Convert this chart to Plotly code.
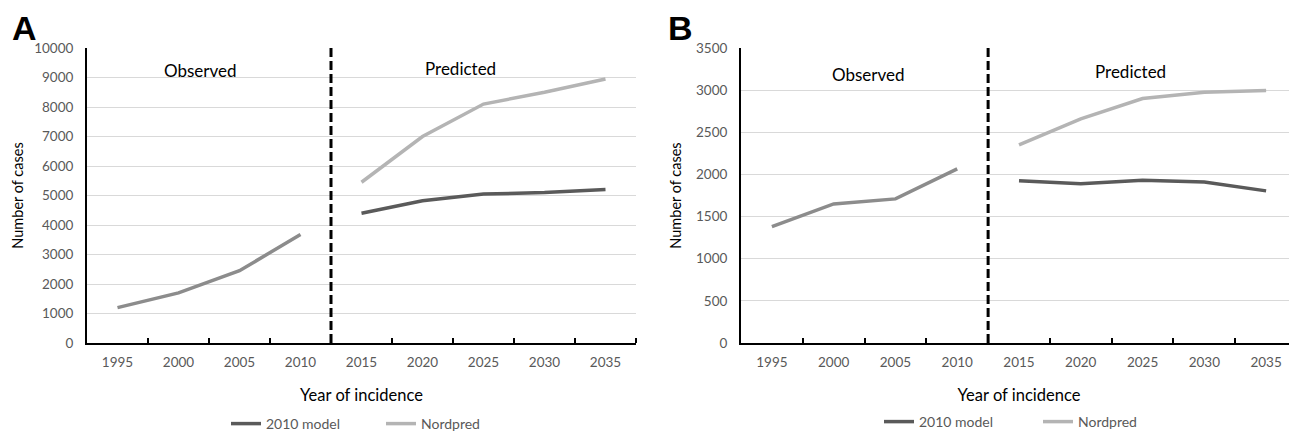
import plotly.graph_objects as go

years = [1995, 2000, 2005, 2010, 2015, 2020, 2025, 2030, 2035]
obs_years = [1995, 2000, 2005, 2010]
pred_years = [2015, 2020, 2025, 2030, 2035]

a_observed = [1200, 1700, 2450, 3680]
a_model2010 = [4400, 4820, 5050, 5100, 5200]
a_nordpred = [5450, 7000, 8100, 8500, 8950]

b_observed = [1380, 1650, 1710, 2065]
b_model2010 = [1925, 1890, 1930, 1910, 1805]
b_nordpred = [2350, 2660, 2900, 2975, 2995]

tick_labels = [str(y) for y in years]

C_OBS = "#8c8c8c"
C_MODEL = "#5a5a5a"
C_NORD = "#b4b4b4"
FONT = "Lato"
OFF = 8  # page body margin
W, H = 1297 - OFF, 433 - OFF

def px(x):
    return (x - OFF) / W

def py(y):
    return 1 - (y - OFF) / H

fig = go.Figure()

def add_panel(xa, ya, legend, obs, model, nord):
    fig.add_trace(go.Scatter(x=obs_years, y=obs, mode="lines", line=dict(color=C_OBS, width=3.5),
                             xaxis=xa, yaxis=ya, showlegend=False))
    fig.add_trace(go.Scatter(x=pred_years, y=model, mode="lines", name="2010 model",
                             line=dict(color=C_MODEL, width=3.5), xaxis=xa, yaxis=ya, legend=legend))
    fig.add_trace(go.Scatter(x=pred_years, y=nord, mode="lines", name="Nordpred",
                             line=dict(color=C_NORD, width=3.5), xaxis=xa, yaxis=ya, legend=legend))

add_panel("x", "y", "legend", a_observed, a_model2010, a_nordpred)
add_panel("x2", "y2", "legend2", b_observed, b_model2010, b_nordpred)

ydom = [py(343), py(48)]

def xaxis(dom, anchor):
    return dict(domain=dom, anchor=anchor, range=[1992.5, 2037.5], automargin=False,
                tickvals=years, ticktext=tick_labels, ticks="", showgrid=False, zeroline=False,
                showline=True, linecolor="black", linewidth=2, ticklabelstandoff=6,
                tickfont=dict(family=FONT, size=13.5, color="#595959"),
                minor=dict(tickvals=[1997.5 + 5 * i for i in range(9)], ticks="inside", ticklen=5,
                           tickcolor="black", tickwidth=1.5, showgrid=False),
                title=dict(text="Year of incidence", font=dict(family=FONT, size=16.5, color="black"), standoff=20))

def yaxis(anchor, rng, dtick, standoff):
    return dict(domain=ydom, anchor=anchor, range=rng, dtick=dtick, showgrid=True, gridcolor="#d9d9d9",
                gridwidth=1, zeroline=False, showline=True, linecolor="black", linewidth=2, ticks="",
                tickformat="d", automargin=False, ticklabelstandoff=9,
                tickfont=dict(family=FONT, size=13.5, color="#595959"),
                title=dict(text="Number of cases", font=dict(family=FONT, size=14.5, color="black"), standoff=standoff))

legend_common = dict(orientation="h", xanchor="left", yanchor="middle", entrywidthmode="pixels",
                     font=dict(family=FONT, size=14, color="#595959"), itemwidth=30, tracegroupgap=0)

fig.update_layout(
    width=W, height=H, margin=dict(l=0, r=0, t=0, b=0, autoexpand=False),
    plot_bgcolor="white", paper_bgcolor="white",
    xaxis=xaxis([px(87), px(636)], "y"),
    yaxis=yaxis("x", [0, 10000], 1000, 7),
    xaxis2=xaxis([px(741), 1.0], "y2"),
    yaxis2=yaxis("x2", [0, 3500], 500, 11),
    legend=dict(legend_common, x=px(226), y=py(424), entrywidth=110),
    legend2=dict(legend_common, x=px(879), y=py(422), entrywidth=114),
    showlegend=True,
)

for xr, yr, top in [("x", "y", 10000), ("x2", "y2", 3500)]:
    fig.add_shape(type="line", xref=xr, yref=yr, x0=2012.5, x1=2012.5, y0=0, y1=top,
                  line=dict(color="black", width=3, dash="9px,4px"))

ann = [
    ("x", "y", 2001.8, 9250, "Observed"), ("x", "y", 2023.1, 9290, "Predicted"),
    ("x2", "y2", 2002.8, 3180, "Observed"), ("x2", "y2", 2024.0, 3225, "Predicted"),
]
for xr, yr, xv, yv, t in ann:
    fig.add_annotation(xref=xr, yref=yr, x=xv, y=yv, text=t, showarrow=False,
                       font=dict(family=FONT, size=17, color="black"))

for label, xl in [("A", 10), ("B", 666)]:
    fig.add_annotation(xref="paper", yref="paper", x=px(xl), y=py(28), xanchor="left", yanchor="middle",
                       text="<b>%s</b>" % label, showarrow=False,
                       font=dict(family="Liberation Sans", size=34, color="black"))

fig.write_html("out.html")
